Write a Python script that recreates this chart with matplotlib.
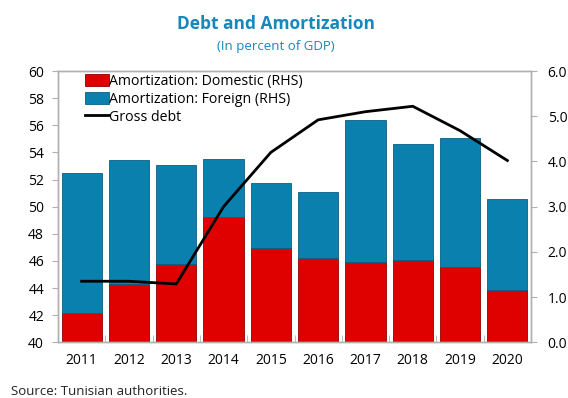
import matplotlib

matplotlib.use("Agg")
import matplotlib.pyplot as plt
import numpy as np

years = ["2011", "2012", "2013", "2014", "2015", "2016", "2017", "2018", "2019", "2020"]
amort_domestic = [0.64, 1.30, 1.74, 2.77, 2.09, 1.87, 1.78, 1.83, 1.67, 1.16]
amort_total = [3.74, 4.04, 3.93, 4.06, 3.52, 3.33, 4.92, 4.38, 4.52, 3.17]
amort_foreign = [t - d for t, d in zip(amort_total, amort_domestic)]
gross_debt = [44.5, 44.5, 44.3, 50.0, 54.0, 56.4, 57.0, 57.4, 55.6, 53.4]

RED = "#DF0000"
BLUE = "#0A80AE"
TITLE = "#1688BC"
SPINE = "#B0B0B0"

plt.rcParams.update(
    {
        "font.family": ["Open Sans", "DejaVu Sans"],
        "font.size": 10,
        "xtick.labelsize": 10,
        "ytick.labelsize": 10,
    }
)

fig = plt.figure(figsize=(5.68, 3.98), dpi=100)
ax = fig.add_axes([0.1021, 0.1400, 0.8328, 0.6816])
ax2 = ax.twinx()

xs = np.arange(len(years))

# amortization bars on the right-hand scale
b1 = ax2.bar(xs, amort_domestic, width=0.85, color=RED, edgecolor="#900000", linewidth=0.6,
             label="Amortization: Domestic (RHS)")
b2 = ax2.bar(xs, amort_foreign, width=0.85, bottom=amort_domestic, color=BLUE,
             edgecolor="#0B5F80", linewidth=0.6, label="Amortization: Foreign (RHS)")
ax2.set_ylim(0, 6)
ax2.set_yticks(np.arange(0, 6.1, 1.0))
ax2.set_yticklabels([f"{v:.1f}" for v in np.arange(0, 6.1, 1.0)])

# gross debt line on the left scale, kept above the bars
(ln,) = ax.plot(xs, gross_debt, color="black", lw=2.0, label="Gross debt", zorder=5)
ax.set_zorder(ax2.get_zorder() + 1)
ax.patch.set_visible(False)
ax.set_ylim(40, 60)
ax.set_yticks(np.arange(40, 61, 2))
ax.set_xlim(-0.5, len(years) - 0.5)

ax.set_xticks(xs)
ax.set_xticklabels(years)
ax.set_xticks(np.arange(-0.5, len(years), 1.0), minor=True)
ax.tick_params(axis="x", which="major", length=0, pad=8)
ax.tick_params(axis="x", which="minor", direction="in", length=5, color=SPINE)
ax.tick_params(axis="y", direction="out", length=4, color=SPINE, pad=6)
ax2.tick_params(axis="y", direction="out", length=4, color=SPINE, pad=8)

for a in (ax, ax2):
    for s in a.spines.values():
        s.set_color(SPINE)
        s.set_linewidth(1.0)

leg = ax.legend(
    handles=[b1, b2, ln],
    loc="upper left",
    bbox_to_anchor=(0.045, 1.01),
    frameon=False,
    handlelength=1.7,
    handleheight=0.9,
    handletextpad=0.0,
    labelspacing=0.2,
    borderaxespad=0.0,
    fontsize=10.2,
)

fig.text(0.486, 0.94, "Debt and Amortization", ha="center", va="center",
         fontsize=12.5, fontweight="bold", color=TITLE)
fig.text(0.486, 0.882, "(In percent of GDP)", ha="center", va="center",
         fontsize=9.5, color=TITLE)
fig.text(0.02, 0.0, "Source: Tunisian authorities.", ha="left", va="bottom",
         fontsize=9.5, color="#222222")

fig.savefig("out.png", dpi=100)
